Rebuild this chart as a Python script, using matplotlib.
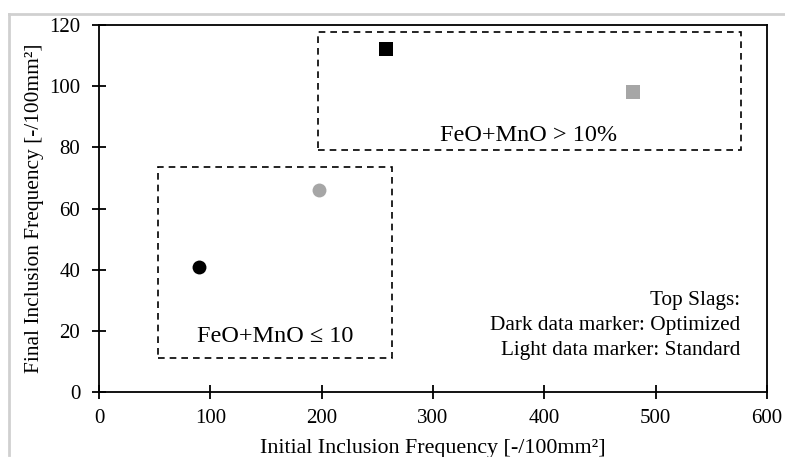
import matplotlib
matplotlib.use("Agg")
import matplotlib.pyplot as plt
from matplotlib.patches import Rectangle
from matplotlib.lines import Line2D

# Data
optimized_x = [90, 258]
optimized_y = [41, 112]
optimized_markers = ['o', 's']
standard_x = [198, 480]
standard_y = [66, 98]
standard_markers = ['o', 's']

low_box = (53, 11, 263, 73.5)     # x0, y0, x1, y1
high_box = (196.5, 79, 576.5, 117.6)
low_label = "FeO+MnO \u2264 10"
high_label = "FeO+MnO > 10%"
legend_lines = ["Top Slags:", "Dark data marker: Optimized", "Light data marker: Standard"]

xticks = [0, 100, 200, 300, 400, 500, 600]
yticks = [0, 20, 40, 60, 80, 100, 120]

plt.rcParams['font.family'] = ['Liberation Serif', 'DejaVu Serif']

fig = plt.figure(figsize=(7.85, 4.57), dpi=100)
W, H = 785, 457
ax = fig.add_axes([99 / W, 1 - 392 / H, (767 - 99) / W, (392 - 25) / H])

for x, y, m in zip(optimized_x, optimized_y, optimized_markers):
    ax.scatter([x], [y], marker=m, s=100, color='black', zorder=3, linewidths=0)
for x, y, m in zip(standard_x, standard_y, standard_markers):
    ax.scatter([x], [y], marker=m, s=100, color='#a6a6a6', zorder=3, linewidths=0)

for (x0, y0, x1, y1) in [low_box, high_box]:
    ax.add_patch(Rectangle((x0, y0), x1 - x0, y1 - y0, fill=False,
                           edgecolor='black', linestyle=(0, (4, 3)), linewidth=1.2))

ax.text((low_box[0] + low_box[2]) / 2, 18.0, low_label, ha='center', va='center', fontsize=17.5)
ax.text(385.5, 84.0, high_label, ha='center', va='center', fontsize=17.5)

for i, t in enumerate(legend_lines):
    ax.text(576, 29.8 - i * 8.1, t, ha='right', va='center', fontsize=15.3)

ax.set_xlim(0, 600)
ax.set_ylim(0, 120)
ax.set_xticks(xticks)
ax.set_yticks(yticks)
ax.tick_params(direction='inout', length=10, width=1.3, labelsize=15)
ax.tick_params(axis='y', pad=8.5)
ax.tick_params(axis='x', pad=7.5)
for s in ax.spines.values():
    s.set_linewidth(1.3)
ax.set_xlabel("Initial Inclusion Frequency [-/100mm\u00b2]", fontsize=15.8, labelpad=8)
ax.set_ylabel("Final Inclusion Frequency [-/100mm\u00b2]", fontsize=15.4, labelpad=3.5)

# light gray frame lines (top and left)
fig.add_artist(Line2D([9 / W, 1], [1 - 14 / H, 1 - 14 / H], color='#d0d0d0', linewidth=2, transform=fig.transFigure))
fig.add_artist(Line2D([9 / W, 9 / W], [1 - 14 / H, 1 - 455 / H], color='#d0d0d0', linewidth=2, transform=fig.transFigure))

fig.savefig("out.png", dpi=100)
